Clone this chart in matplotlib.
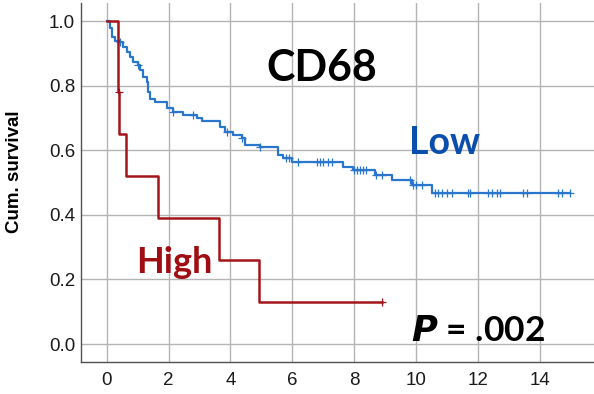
import matplotlib
matplotlib.use("Agg")
import matplotlib.pyplot as plt
import numpy as np

# Low CD68 group: event times (years) and survival after each drop
low_times = [0.10, 0.16, 0.26, 0.42, 0.52, 0.65, 0.74, 0.84, 1.00, 1.07, 1.17, 1.29,
             1.33, 1.39, 1.55, 1.94, 2.14, 2.46, 2.91, 3.07, 3.66, 3.82, 4.08, 4.37,
             4.47, 4.95, 5.53, 5.70, 5.99, 7.64, 7.96, 8.67, 9.22, 9.87, 10.52]
low_surv = [0.978, 0.950, 0.940, 0.935, 0.920, 0.904, 0.889, 0.873, 0.864, 0.848, 0.827, 0.811,
            0.780, 0.760, 0.749, 0.731, 0.718, 0.709, 0.700, 0.690, 0.672, 0.656, 0.647, 0.638,
            0.616, 0.610, 0.585, 0.576, 0.563, 0.548, 0.539, 0.523, 0.508, 0.492, 0.468]
low_end = 14.98
low_censor = [0.42, 1.00, 2.14, 2.78, 3.88, 4.37, 4.95, 5.80, 5.90, 6.20, 6.80, 6.90, 7.00,
              7.15, 7.30, 8.00, 8.10, 8.20, 8.30, 8.40, 8.70, 8.90, 9.80, 9.90, 10.00, 10.20,
              10.61, 10.71, 10.84, 11.00, 11.17, 11.68, 11.75, 12.33, 12.46, 12.62, 12.72,
              13.46, 13.59, 14.60, 14.72, 14.98]

# High CD68 group
high_times = [0.37, 0.40, 0.62, 1.66, 3.63, 4.93]
high_surv = [0.78, 0.65, 0.52, 0.39, 0.26, 0.13]
high_end = 8.89
high_censor = [0.38, 8.89]

low_color = "#2a76cc"
high_color = "#a3151b"


def step_xy(times, surv, end):
    x = np.r_[0, times, end]
    y = np.r_[1.0, surv, surv[-1]]
    return x, y


def surv_at(t, times, surv):
    i = np.searchsorted(times, t, side="right")
    return 1.0 if i == 0 else surv[i - 1]


fig = plt.figure(figsize=(5.94, 3.94), dpi=100)
ax = fig.add_axes([0.136, 0.081, 0.864, 0.911])

ax.set_xlim(-0.84, 15.76)
ax.set_ylim(-0.056, 1.056)
ax.set_xticks(range(0, 16, 2))
ax.set_yticks([0.0, 0.2, 0.4, 0.6, 0.8, 1.0])
ax.set_yticklabels(["0.0", "0.2", "0.4", "0.6", "0.8", "1.0"])
ax.grid(True, color="#b4b4b4", linewidth=1.0)
ax.set_axisbelow(True)
for s in ["top", "right"]:
    ax.spines[s].set_visible(False)
for s in ["left", "bottom"]:
    ax.spines[s].set_color("#505050")
    ax.spines[s].set_linewidth(1.0)
ax.tick_params(axis="y", length=0, pad=4, labelsize=13.5, labelcolor="#1a1a1a")
ax.tick_params(axis="x", length=0, pad=7, labelsize=13.5, labelcolor="#1a1a1a")
for lab in ax.get_xticklabels() + ax.get_yticklabels():
    lab.set_fontfamily("Liberation Sans")

ax.set_ylabel("Cum. survival", fontsize=13.5, fontweight="bold",
              fontfamily="Liberation Sans")
ax.yaxis.set_label_coords(-0.113, 0.53)

x, y = step_xy(low_times, low_surv, low_end)
ax.step(x, y, where="post", color=low_color, linewidth=1.6)
ax.plot(low_censor, [surv_at(t, low_times, low_surv) for t in low_censor], "+",
        color=low_color, markersize=6, markeredgewidth=0.9)

x, y = step_xy(high_times, high_surv, high_end)
ax.step(x, y, where="post", color=high_color, linewidth=1.8)
ax.plot(high_censor, [surv_at(t, high_times, high_surv) for t in high_censor], "+",
        color=high_color, markersize=6, markeredgewidth=0.9)

ax.text(6.96, 0.855, "CD68", fontsize=31, fontweight="bold", fontfamily="Lato",
        ha="center", va="center", color="black")
ax.text(10.94, 0.622, "Low", fontsize=27, fontweight="bold", fontfamily="Lato",
        ha="center", va="center", color="#0b4fae")
ax.text(2.2, 0.254, "High", fontsize=26, fontweight="bold", fontfamily="Lato",
        ha="center", va="center", color="#a00d12")
ax.text(12.0, 0.04, r"$\boldsymbol{P}$ = .002", fontsize=25.5, fontweight="bold",
        fontfamily="Lato", ha="center", va="center", color="black")

fig.savefig("out.png", dpi=100)
